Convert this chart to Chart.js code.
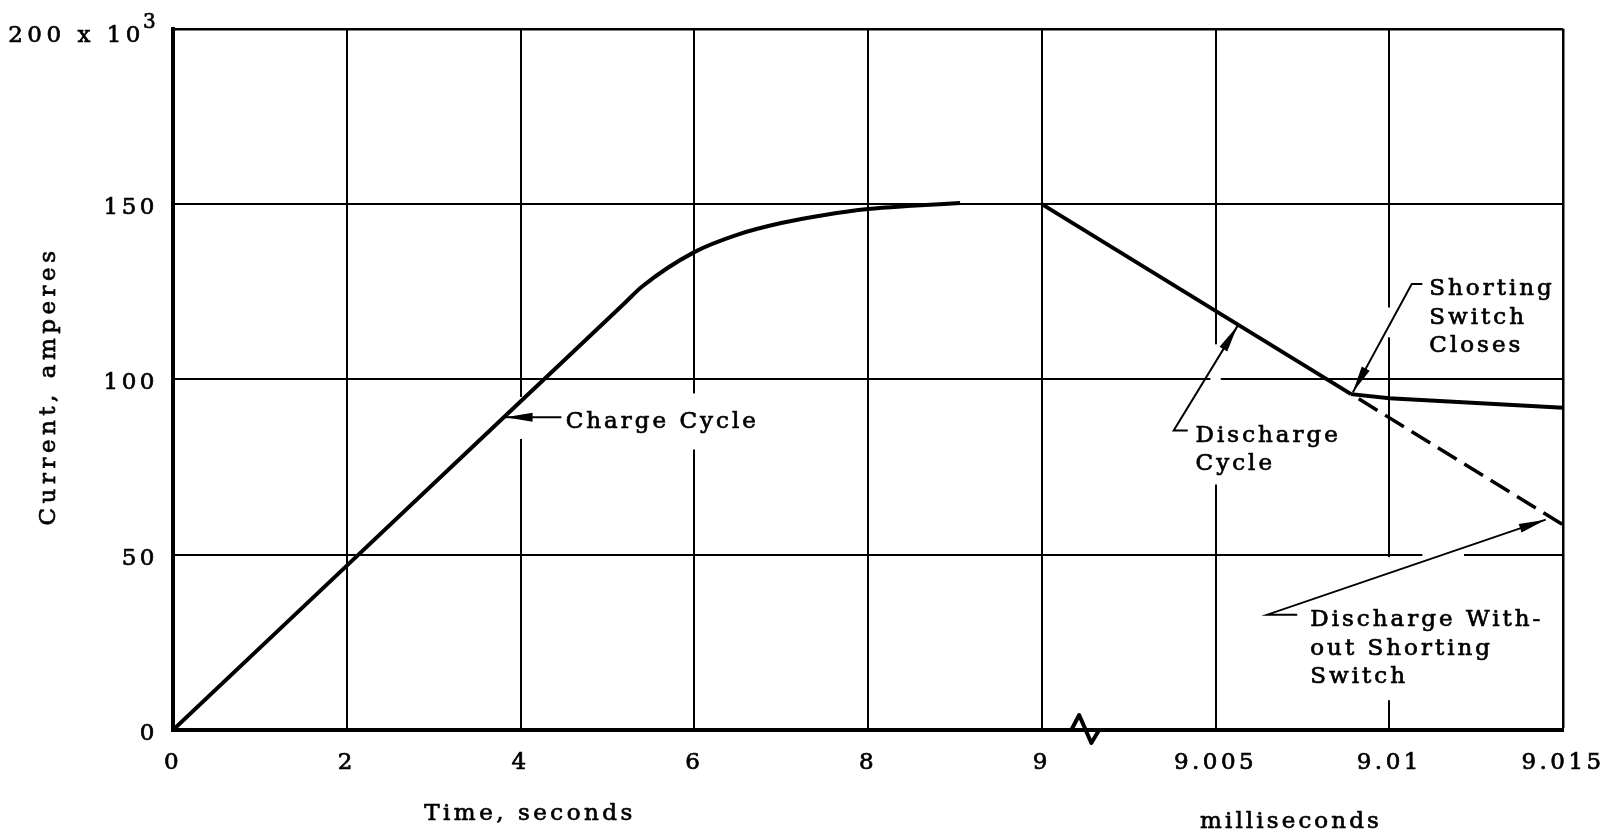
<!DOCTYPE html>
<html>
<head>
<meta charset="utf-8">
<script src="https://cdn.jsdelivr.net/npm/chart.js@4/dist/chart.umd.min.js"></script>
<style>
  html, body { margin: 0; padding: 0; background: #fff; }
  #wrap { width: 1615px; height: 837px; }
</style>
</head>
<body>
<div id="wrap"><canvas id="chart" width="1615" height="837"></canvas></div>
<script>
// Tick labels: the x axis is split into equal columns (seconds, then milliseconds)
const xTickLabels = ['0', '2', '4', '6', '8', '9', '9.005', '9.01', '9.015'];
const yTickValues = [0, 50, 100, 150, 200];
const yTickLabels = ['0', '50', '100', '150', '200 x 10'];
const yTopExponent = '3';

// Charge cycle: time in seconds, current in 10^3 amperes
const chargeTime    = [0, 4.0, 5.2, 5.4, 6.0, 6.5, 7.0, 7.5, 8.0, 8.25, 8.53];
const chargeCurrent = [0, 93.7, 121.8, 126.5, 136.3, 141.3, 144.6, 146.9, 148.6, 149.5, 150.3];

// Discharge cycle: time in milliseconds
const dischargeTime    = [9.0, 9.0089];
const dischargeCurrent = [150, 95.8];
const shortedTime      = [9.0089, 9.01, 9.015];
const shortedCurrent   = [95.8, 94.6, 91.9];
const unshortedTime    = [9.0089, 9.015];
const unshortedCurrent = [95.8, 58.5];

// column position on the broken time axis
function secPos(t) { return t <= 8 ? t / 2 : 4 + (t - 8); }
function msPos(t) { return 5 + (t - 9) / 0.005; }

function toPoints(times, values, pos) {
    return times.map((t, i) => ({ x: pos(t), y: values[i] }));
}

const FONT = '"DejaVu Serif", "Liberation Serif", serif';

// callouts, placed in axis units (column, current)
const notes = [
    { lines: ['Charge Cycle'], at: [2.26, 88.6], leader: [[2.235, 89.2], [1.914, 89.2]] },
    { lines: ['Discharge', 'Cycle'], at: [5.885, 84.8], leader: [[5.84, 85.4], [5.759, 85.4], [6.126, 115.2]] },
    { lines: ['Shorting', 'Switch', 'Closes'], at: [7.23, 126.6], leader: [[7.19, 127.2], [7.129, 127.2], [6.79, 96.3]] },
    { lines: ['Discharge With-', 'out Shorting', 'Switch'], at: [6.545, 32.2], leader: [[6.47, 32.9], [6.298, 32.9], [7.90, 60.0]] }
];

function put(ctx, text, x, y, size, align, spacing) {
    ctx.font = size + 'px ' + FONT;
    ctx.letterSpacing = spacing + 'px';
    ctx.textAlign = align;
    ctx.textBaseline = 'middle';
    ctx.fillStyle = '#000';
    ctx.strokeStyle = '#000';
    ctx.lineWidth = 0.7;
    ctx.fillText(text, x, y + 3);
    ctx.strokeText(text, x, y + 3);
}

const paperPlugin = {
    id: 'paper',
    beforeDraw(chart) {
        const ctx = chart.ctx;
        ctx.save();
        ctx.fillStyle = '#fff';
        ctx.fillRect(0, 0, chart.width, chart.height);
        ctx.restore();
        ctx.letterSpacing = '3.5px';  // wide typewriter look for tick labels
    },
    beforeDatasetsDraw(chart) {
        // white out the grid where the original drawing has gaps
        const ctx = chart.ctx, xs = chart.scales.x, ys = chart.scales.y;
        const gaps = [
            [1.97, 2.03, 83, 95],
            [2.97, 3.03, 80, 96],
            [5.97, 6.03, 70, 110],
            [6.97, 7.03, 112, 120.5],
            [7.19, 7.43, 48.5, 51.5],
            [6.97, 7.03, 8.5, 49.3]
        ];
        ctx.save();
        ctx.fillStyle = '#fff';
        gaps.forEach(g => {
            const x0 = xs.getPixelForValue(g[0]), x1 = xs.getPixelForValue(g[1]);
            const y0 = ys.getPixelForValue(g[3]), y1 = ys.getPixelForValue(g[2]);
            ctx.fillRect(x0, y0, x1 - x0, y1 - y0);
        });
        ctx.restore();
    },
    afterDraw(chart) {
        const ctx = chart.ctx, xs = chart.scales.x, ys = chart.scales.y;
        const area = chart.chartArea;
        ctx.save();

        // callouts
        notes.forEach(n => {
            const tx = xs.getPixelForValue(n.at[0]);
            const ty = ys.getPixelForValue(n.at[1]);
            n.lines.forEach((line, i) => put(ctx, line, tx, ty + i * 28.5, 23, 'left', 3));

            const pts = n.leader.map(p => [xs.getPixelForValue(p[0]), ys.getPixelForValue(p[1])]);
            ctx.strokeStyle = '#000';
            ctx.lineWidth = 2;
            ctx.beginPath();
            pts.forEach((p, i) => i ? ctx.lineTo(p[0], p[1]) : ctx.moveTo(p[0], p[1]));
            ctx.stroke();

            const tip = pts[pts.length - 1], prev = pts[pts.length - 2];
            const dx = tip[0] - prev[0], dy = tip[1] - prev[1];
            const len = Math.hypot(dx, dy), ux = dx / len, uy = dy / len;
            const hl = 27, hw = 4.5;
            ctx.fillStyle = '#000';
            ctx.beginPath();
            ctx.moveTo(tip[0], tip[1]);
            ctx.lineTo(tip[0] - ux * hl - uy * hw, tip[1] - uy * hl + ux * hw);
            ctx.lineTo(tip[0] - ux * hl + uy * hw, tip[1] - uy * hl - ux * hw);
            ctx.closePath();
            ctx.fill();
        });

        // axis break mark between seconds and milliseconds
        const brk = [[5.17, 0], [5.215, -15], [5.285, 13], [5.33, 0]];
        ctx.strokeStyle = '#000';
        ctx.lineWidth = 4;
        ctx.lineJoin = 'round';
        ctx.beginPath();
        brk.forEach((b, i) => {
            const px = xs.getPixelForValue(b[0]), py = area.bottom + b[1];
            i ? ctx.lineTo(px, py) : ctx.moveTo(px, py);
        });
        ctx.stroke();

        // top y label with exponent
        const yTop = ys.getPixelForValue(yTickValues[4]);
        put(ctx, yTickLabels[4], 145, yTop + 4, 23, 'right', 4.5);
        put(ctx, yTopExponent, 143, yTop - 9, 20, 'left', 0);

        // axis titles
        put(ctx, 'Time, seconds', 530, 811, 23, 'center', 3.5);
        put(ctx, 'milliseconds', 1291, 819, 23, 'center', 3.1);
        ctx.translate(49, 386);
        ctx.rotate(-Math.PI / 2);
        put(ctx, 'Current, amperes', 0, -3, 23, 'center', 4.5);

        ctx.restore();
        ctx.letterSpacing = '0px';
    }
};

const edgeWidth = (ctx, last) => (ctx.index === last ? 2.5 : 2);

new Chart(document.getElementById('chart'), {
    type: 'line',
    data: {
        datasets: [
            {
                label: 'Charge Cycle',
                data: toPoints(chargeTime, chargeCurrent, secPos),
                borderColor: '#000', borderWidth: 4, pointRadius: 0,
                cubicInterpolationMode: 'monotone'
            },
            {
                label: 'Discharge Cycle',
                data: toPoints(dischargeTime, dischargeCurrent, msPos),
                borderColor: '#000', borderWidth: 4, pointRadius: 0, tension: 0
            },
            {
                label: 'Shorting Switch Closes',
                data: toPoints(shortedTime, shortedCurrent, msPos),
                borderColor: '#000', borderWidth: 4, pointRadius: 0, tension: 0
            },
            {
                label: 'Discharge Without Shorting Switch',
                data: toPoints(unshortedTime, unshortedCurrent, msPos),
                borderColor: '#000', borderWidth: 3.5, pointRadius: 0, tension: 0,
                borderDash: [22, 9],
                borderDashOffset: 22
            }
        ]
    },
    options: {
        responsive: false,
        animation: false,
        devicePixelRatio: 1,
        layout: { padding: { left: 0, top: 27, right: 47, bottom: 0 } },
        plugins: { legend: { display: false }, tooltip: { enabled: false } },
        scales: {
            x: {
                type: 'linear',
                min: 0,
                max: xTickLabels.length - 1,
                afterBuildTicks: scale => { scale.ticks = xTickLabels.map((_, i) => ({ value: i })); },
                afterFit: scale => { scale.height = 107; },
                grid: { color: '#000', lineWidth: ctx => edgeWidth(ctx, xTickLabels.length - 1), drawTicks: false },
                border: { color: '#000', width: 4 },
                ticks: {
                    autoSkip: false,
                    maxRotation: 0,
                    padding: 19,
                    color: '#000',
                    textStrokeColor: '#000',
                    textStrokeWidth: 0.7,
                    font: { family: FONT, size: 23 },
                    callback: v => xTickLabels[v]
                }
            },
            y: {
                min: 0,
                max: 200,
                afterBuildTicks: scale => { scale.ticks = yTickValues.map(v => ({ value: v })); },
                afterFit: scale => { scale.width = 173; },
                grid: { color: '#000', lineWidth: ctx => edgeWidth(ctx, yTickValues.length - 1), drawTicks: false },
                border: { color: '#000', width: 4 },
                ticks: {
                    padding: 15,
                    labelOffset: 4,
                    color: '#000',
                    textStrokeColor: '#000',
                    textStrokeWidth: 0.7,
                    font: { family: FONT, size: 23 },
                    // the 200 label carries the exponent and is drawn by the plugin
                    callback: v => (v === 200 ? '' : yTickLabels[yTickValues.indexOf(v)])
                }
            }
        }
    },
    plugins: [paperPlugin]
});
</script>
</body>
</html>
